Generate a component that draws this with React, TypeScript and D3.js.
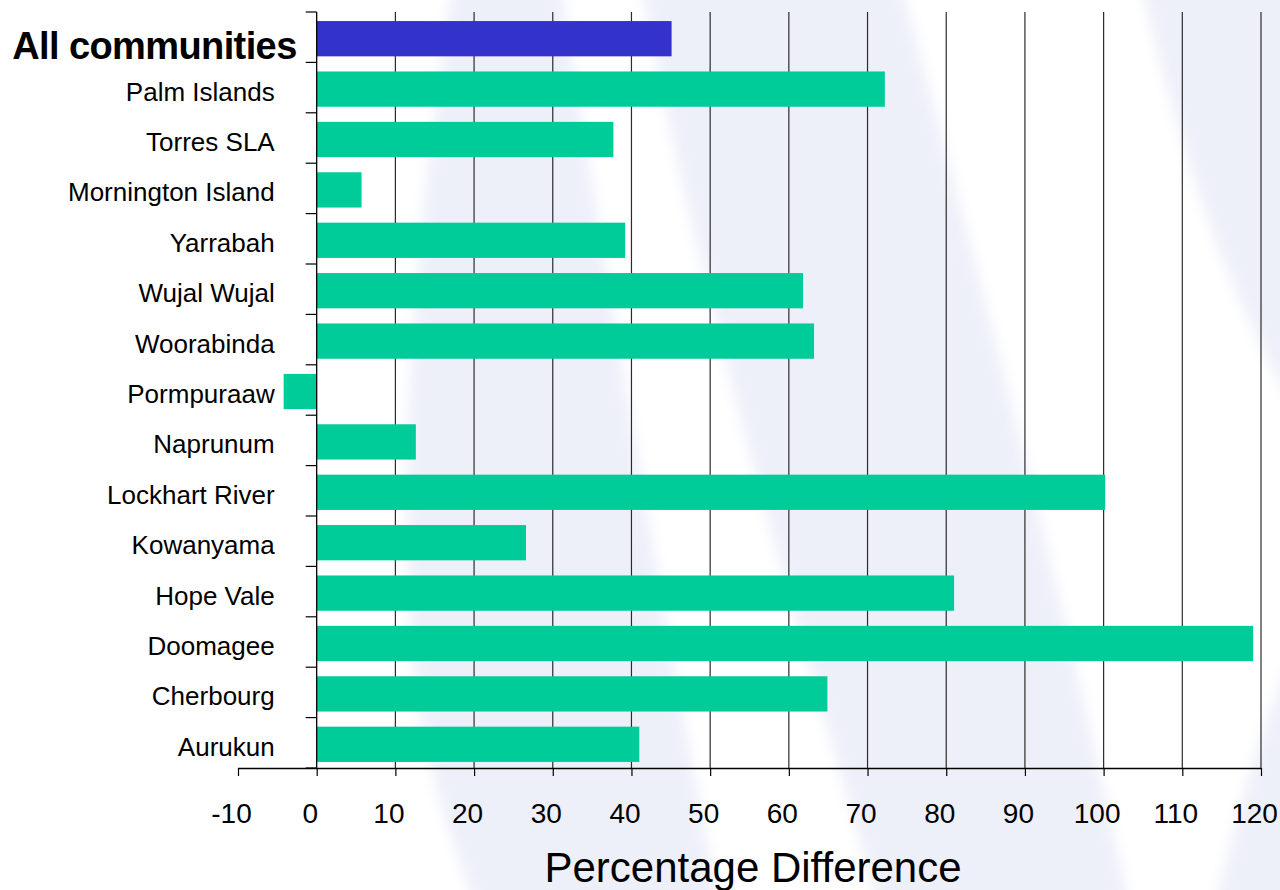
import React, { Component } from 'react';
import * as d3 from 'd3';

// communities, top to bottom as drawn
const categories: string[] = [
    'All communities',
    'Palm Islands',
    'Torres SLA',
    'Mornington Island',
    'Yarrabah',
    'Wujal Wujal',
    'Woorabinda',
    'Pormpuraaw',
    'Naprunum',
    'Lockhart River',
    'Kowanyama',
    'Hope Vale',
    'Doomagee',
    'Cherbourg',
    'Aurukun'
];

// percentage difference per community
const values: number[] = [45.1, 72.2, 37.7, 5.7, 39.2, 61.8, 63.2, -4.2, 12.6, 100.2, 26.6, 81.0, 119.0, 64.9, 41.0];

const highlighted: string[] = ['All communities'];

const xTicks: number[] = [-10, 0, 10, 20, 30, 40, 50, 60, 70, 80, 90, 100, 110, 120];
const xDomain: number[] = [-10, 120];
const xTitle = 'Percentage Difference';

export interface Datum {
    name: string,
    value: number
}

export default class App extends Component {
    private canvas: any;
    private width: number;
    private height: number;
    private margin: {
        top: number,
        right: number,
        bottom: number,
        left: number
    };

    constructor(props: any) {
        super(props);
        this.canvas = React.createRef();
        this.width = 1280;
        this.height = 890;
        this.margin = {
            top: 12,
            right: 19,
            bottom: 122,
            left: 238
        };
    }

    componentDidMount() {
        this.buildChart();
    }

    buildChart = () => {
        const root = d3.select(this.canvas.current);
        root.selectAll('*').remove();

        const data: Datum[] = categories.map((name, i) => ({ name, value: values[i] }));
        const font = '"Liberation Sans", Arial, sans-serif';

        const svg = root.append('svg')
            .attr('width', this.width)
            .attr('height', this.height)
            .style('display', 'block')
            .style('font-family', font);

        // slide background: pale soft swooshes
        const defs = svg.append('defs');
        defs.append('filter')
            .attr('id', 'soft')
            .attr('x', '-10%').attr('y', '-10%')
            .attr('width', '120%').attr('height', '120%')
            .append('feGaussianBlur')
            .attr('stdDeviation', 7);

        const bg = svg.append('g');
        bg.append('rect')
            .attr('width', this.width)
            .attr('height', this.height)
            .attr('fill', '#ffffff');
        const swooshes = [
            'M453,-20 C420,200 395,450 412,650 C422,760 450,840 478,910 L720,910 C660,600 610,300 560,-20 Z',
            'M640,-20 C700,300 790,600 880,910 L1130,910 C1075,650 1000,350 900,-20 Z',
            'M1140,-20 C1180,150 1220,280 1300,420 L1300,-20 Z',
            'M1215,910 C1240,800 1262,720 1300,640 L1300,910 Z'
        ];
        bg.append('g')
            .attr('filter', 'url(#soft)')
            .selectAll('path')
            .data(swooshes)
            .enter().append('path')
            .attr('d', (d: string) => d)
            .attr('fill', '#eef0f9');

        const x = d3.scaleLinear()
            .domain(xDomain)
            .range([this.margin.left, this.width - this.margin.right]);

        const y = d3.scaleBand()
            .domain(categories)
            .range([this.margin.top, this.height - this.margin.bottom])
            .paddingInner(0.3)
            .paddingOuter(0.15);

        const plotTop = this.margin.top;
        const plotBottom = this.height - this.margin.bottom;

        // vertical gridlines
        svg.append('g')
            .selectAll('line')
            .data(xTicks.filter(t => t > 0))
            .enter().append('line')
            .attr('x1', (d: number) => x(d))
            .attr('x2', (d: number) => x(d))
            .attr('y1', plotTop)
            .attr('y2', plotBottom)
            .attr('stroke', '#2b2b2b')
            .attr('stroke-width', 1.2);

        // bars
        svg.append('g')
            .selectAll('rect')
            .data(data)
            .enter().append('rect')
            .attr('x', (d: Datum) => x(Math.min(0, d.value)))
            .attr('y', (d: Datum) => (y(d.name) as number) + 1.5)
            .attr('width', (d: Datum) => Math.abs(x(d.value) - x(0)))
            .attr('height', y.bandwidth())
            .attr('fill', (d: Datum) => highlighted.includes(d.name) ? '#3333cc' : '#00cc99');

        // x axis
        const xAxis = svg.append('g')
            .attr('transform', 'translate(0,' + plotBottom + ')')
            .call(d3.axisBottom(x).tickValues(xTicks).tickSize(8).tickFormat((d: any) => String(d)));
        xAxis.select('.domain')
            .attr('stroke', '#000')
            .attr('stroke-width', 1.3)
            .attr('d', `M${x(xDomain[0])},0.5H${x(xDomain[1])}`);
        xAxis.selectAll('.tick line').attr('stroke', '#000').attr('stroke-width', 1.2);
        xAxis.selectAll('.tick text')
            .attr('x', -7)
            .attr('y', 55)
            .attr('dy', 0)
            .attr('fill', '#000')
            .style('font-family', font)
            .style('font-size', '28px');

        // y axis at zero with category boundary ticks
        const boundaries = categories.map(c => (y(c) as number) - y.step() * y.paddingInner() / 2);
        boundaries.push(plotBottom);
        const yAxis = svg.append('g');
        yAxis.append('line')
            .attr('x1', x(0))
            .attr('x2', x(0))
            .attr('y1', plotTop)
            .attr('y2', plotBottom)
            .attr('stroke', '#000')
            .attr('stroke-width', 1.3);
        yAxis.selectAll('.ytick')
            .data(boundaries)
            .enter().append('line')
            .attr('class', 'ytick')
            .attr('x1', x(0) - 11)
            .attr('x2', x(0))
            .attr('y1', (d: number) => d)
            .attr('y2', (d: number) => d)
            .attr('stroke', '#000')
            .attr('stroke-width', 1.2);

        // category labels
        svg.append('g')
            .selectAll('text')
            .data(categories)
            .enter().append('text')
            .attr('x', (d: string) => highlighted.includes(d) ? x(0) - 20 : x(0) - 42)
            .attr('y', (d: string) => (y(d) as number) + y.bandwidth() / 2 + (highlighted.includes(d) ? 22 : 13))
            .attr('text-anchor', 'end')
            .style('font-size', (d: string) => highlighted.includes(d) ? '38px' : '26px')
            .style('font-weight', (d: string) => highlighted.includes(d) ? 'bold' : 'normal')
            .style('letter-spacing', (d: string) => highlighted.includes(d) ? '-0.6px' : '0px')
            .attr('fill', '#000')
            .text((d: string) => d);

        // axis title
        svg.append('text')
            .attr('x', 753)
            .attr('y', 882)
            .attr('text-anchor', 'middle')
            .style('font-size', '42px')
            .attr('fill', '#000')
            .text(xTitle);
    }

    render() {
        return (
            <div style={{ position: 'absolute', left: 0, top: 0 }}>
                <div className="barChart" ref={this.canvas}></div>
            </div>
        )
    }
}
